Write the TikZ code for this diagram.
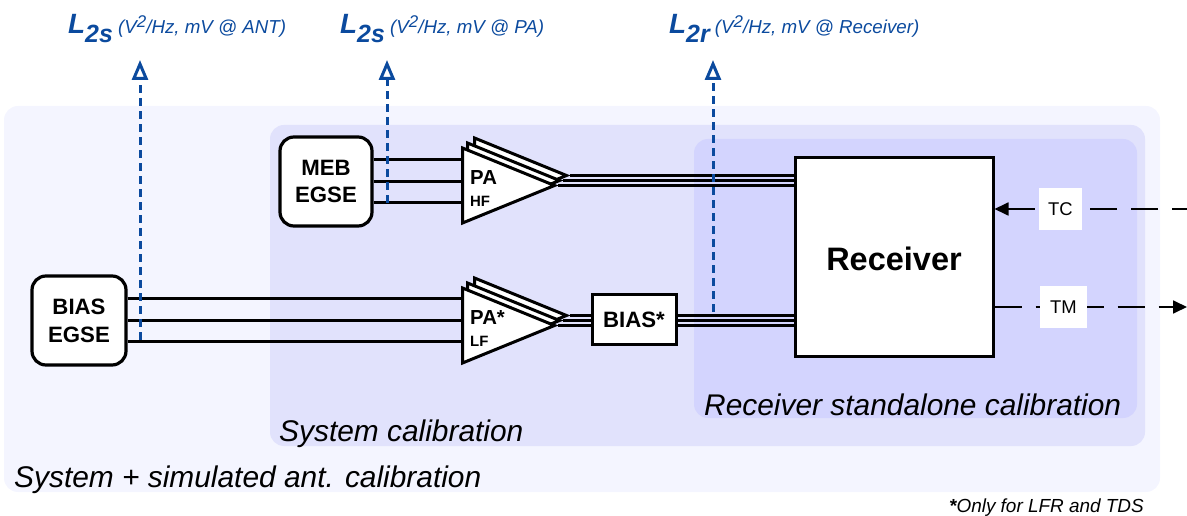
\documentclass[tikz,border=0pt]{standalone}
\usepackage{fontspec}
\usepackage{xcolor}
\setmainfont{Liberation Sans}
\usetikzlibrary{arrows.meta}
\usetikzlibrary{shapes.geometric}
\definecolor{panelColorA}{HTML}{F4F5FF}
\definecolor{panelColorB}{HTML}{E1E2FC}
\definecolor{panelColorC}{HTML}{D3D4FE}
\definecolor{tapColor}{HTML}{0B4A9E}
\def\supTwo{\raisebox{6.5bp}{\fontsize{17}{17}\selectfont 2}}
\def\textA{(V\supTwo/Hz, mV @ ANT)}
\def\textB{(V\supTwo/Hz, mV @ PA)}
\def\textC{(V\supTwo/Hz, mV @ Receiver)}
\tikzset{
  panelBox/.style={rounded corners=14bp, inner sep=0pt},
  panelText/.style={anchor=west, inner sep=0pt, font=\fontsize{30}{30}\selectfont\itshape},
  egseBox/.style={draw, line width=3.2bp, fill=white, rounded corners=14bp, align=center,
    inner sep=0pt, font=\fontsize{22.3}{28}\selectfont\bfseries},
  blockBox/.style={draw, line width=3bp, fill=white, inner sep=0pt},
  ampTri/.style={draw, line width=3bp, fill=white, isosceles triangle, isosceles triangle stretches,
    inner sep=0pt, minimum width=75bp, minimum height=92bp, anchor=lower side},
  wireLine/.style={line width=3bp},
  busLine/.style={line width=2.4bp},
  tapLine/.style={color=tapColor, line width=3bp, dash pattern=on 8bp off 5bp,
    -{Triangle[open, length=20bp, width=16bp]}},
  tapText/.style={anchor=base west, inner sep=0pt, text=tapColor},
  ampText/.style={anchor=west, inner sep=0pt, font=\fontsize{20.4}{20}\selectfont\bfseries},
  ampSub/.style={anchor=west, inner sep=0pt, font=\fontsize{15}{15}\selectfont\bfseries},
  linkBox/.style={fill=white, inner sep=0pt, font=\fontsize{18.5}{19}\selectfont},
  linkLine/.style={line width=1.8bp, dash pattern=on 27bp off 14bp},
}

\begin{document}
\begin{tikzpicture}[x=1bp,y=-1bp]
\useasboundingbox (0, 0) rectangle (1187, 516);

% panel layer
\begin{scope}
\fill[panelBox, color=panelColorA] (4, 106) rectangle (1160, 492);
\fill[panelBox, color=panelColorB] (270, 125) rectangle (1145, 446);
\fill[panelBox, color=panelColorC] (694, 139) rectangle (1137, 418);
\node[panelText] (panelSys) at (14, 480) {System + simulated ant. calibration};
\node[panelText] (panelCal) at (279, 434) {System calibration};
\node[panelText] (panelRx) at (704, 405) {Receiver standalone calibration};
\end{scope}

% block layer
\begin{scope}
\node[egseBox, minimum width=92bp, minimum height=89bp] (mebEgse) at (326, 181.5) {MEB\\EGSE};
\node[egseBox, minimum width=94bp, minimum height=89bp] (biasEgse) at (79, 320.5) {BIAS\\EGSE};
\node[blockBox, minimum width=84bp, minimum height=50bp, font=\fontsize{22.3}{22}\selectfont\bfseries]
  (biasBox) at (634, 320) {BIAS*};
\node[blockBox, minimum width=198bp, minimum height=198bp, font=\fontsize{32.6}{33}\selectfont\bfseries,
  text height=28bp, text depth=0bp] (receiver) at (894, 257) {Receiver};
\end{scope}

% amplifier layer
\begin{scope}[shift={(461, 185.5)}]
\node[ampTri] (ampHFc) at (12, -10) {};
\node[ampTri] (ampHFb) at (5, -5) {};
\node[ampTri] (ampHFa) at (0, 0) {};
\node[ampText] (textHF) at (9, -8) {PA};
\node[ampSub] (subHF) at (9, 16) {HF};
\end{scope}
\begin{scope}[shift={(461, 325.5)}]
\node[ampTri] (ampLFc) at (12, -10) {};
\node[ampTri] (ampLFb) at (5, -5) {};
\node[ampTri] (ampLFa) at (0, 0) {};
\node[ampText] (textLF) at (9, -8) {PA*};
\node[ampSub] (subLF) at (9, 16) {LF};
\end{scope}

% wire layer
\begin{scope}
\draw[wireLine] ([yshift=21.5bp]mebEgse.east) -- ([yshift=21.5bp]mebEgse.east -| ampHFa.lower side);
\draw[wireLine] (mebEgse.east) -- (mebEgse.east -| ampHFa.lower side);
\draw[wireLine] ([yshift=-21.5bp]mebEgse.east) -- ([yshift=-21.5bp]mebEgse.east -| ampHFa.lower side);
\draw[wireLine] ([yshift=21.5bp]biasEgse.east) -- ([yshift=21.5bp]biasEgse.east -| ampLFa.lower side);
\draw[wireLine] (biasEgse.east) -- (biasEgse.east -| ampLFa.lower side);
\draw[wireLine] ([yshift=-21.5bp]biasEgse.east) -- ([yshift=-21.5bp]biasEgse.east -| ampLFa.lower side);
\draw[busLine] (ampHFc.apex) -- (ampHFc.apex -| receiver.west);
\draw[busLine] (ampHFb.apex) -- (ampHFb.apex -| receiver.west);
\draw[busLine] (ampHFa.apex) -- (ampHFa.apex -| receiver.west);
\draw[busLine] (ampLFc.apex) -- (ampLFc.apex -| biasBox.west);
\draw[busLine] (ampLFb.apex) -- (ampLFb.apex -| biasBox.west);
\draw[busLine] (ampLFa.apex) -- (ampLFa.apex -| biasBox.west);
\draw[busLine] (ampLFc.apex -| biasBox.east) -- (ampLFc.apex -| receiver.west);
\draw[busLine] (ampLFb.apex -| biasBox.east) -- (ampLFb.apex -| receiver.west);
\draw[busLine] (ampLFa.apex -| biasBox.east) -- (ampLFa.apex -| receiver.west);
\end{scope}

% link layer
\begin{scope}
\coordinate (tcEnd) at (1187, 209);
\coordinate (tmEnd) at (1187, 307);
\draw[linkLine, -{Triangle[length=14bp, width=13bp]}] (receiver.east |- tmEnd) -- (tmEnd);
\node[linkBox, minimum width=43bp, minimum height=42bp] (tcBox) at (1060.5, 209) {TC};
\node[linkBox, minimum width=47bp, minimum height=42bp] (tmBox) at (1063.5, 307) {TM};
\draw[linkLine, dash phase=12bp] (tcEnd) -- (tcBox.east);
\draw[line width=1.8bp, shorten <=4bp, -{Triangle[length=14bp, width=13bp]}] (tcBox.west) -- (tcBox.west -| receiver.east);
\end{scope}

% tap layer
\begin{scope}
\coordinate (tapAnt) at (140, 60);
\coordinate (tapPA) at (387, 60);
\coordinate (tapRx) at (713, 60);
\draw[tapLine] (140, 340) -- (tapAnt);
\draw[tapLine] (387, 203) -- (tapPA);
\draw[tapLine] (713, 312) -- (tapRx);
\node[tapText] (labelAnt) at (68, 34) {\fontsize{28}{28}\selectfont\bfseries\itshape L\raisebox{-9bp}{\fontsize{25}{25}\selectfont 2s}\fontsize{18.8}{19}\mdseries\selectfont\ \textA};
\node[tapText] (labelPA) at (340, 34) {\fontsize{28}{28}\selectfont\bfseries\itshape L\raisebox{-9bp}{\fontsize{25}{25}\selectfont 2s}\fontsize{18.8}{19}\mdseries\selectfont\ \textB};
\node[tapText] (labelRx) at (669, 34) {\fontsize{28}{28}\selectfont\bfseries\itshape L\raisebox{-9bp}{\fontsize{25}{25}\selectfont 2r}\fontsize{18.8}{19}\mdseries\selectfont\ \textC};
\end{scope}

% footnote
\node[anchor=base east, inner sep=0pt, font=\fontsize{19}{19}\selectfont\itshape] (noteText) at (1144, 512) {\textbf{*}Only for LFR and TDS};
\end{tikzpicture}
\end{document}
